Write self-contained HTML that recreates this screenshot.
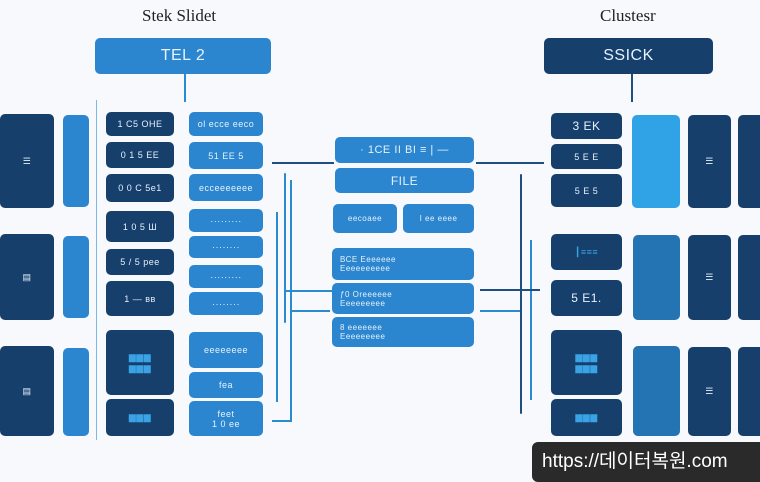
<!DOCTYPE html>
<html><head><meta charset="utf-8"><style>
body{margin:0;width:760px;height:480px;background:#f7f9fc;position:relative;overflow:hidden;font-family:"Liberation Sans",sans-serif}
.b{position:absolute;border-radius:5px;color:#e6f1fb;font-size:9px;display:flex;align-items:center;justify-content:center;text-align:center;letter-spacing:.5px}
.d{background:#163f6c}.m{background:#2b86cf}.l{background:#2fa3e6}.s{background:#2473b3}
.t{position:absolute;font-family:"Liberation Serif",serif;font-size:17px;color:#222}
.ln{position:absolute;background:#2c8ad0}.dl{position:absolute;background:#1f4f80}
</style></head><body>
<div class="t" style="left:142px;top:6px">Stek Slidet</div>
<div class="t" style="left:600px;top:6px">Clustesr</div>
<div class="b m" style="left:95px;top:38px;width:176px;height:36px;font-size:16px">TEL 2</div>
<div class="b d" style="left:544px;top:38px;width:169px;height:36px;font-size:16px">SSICK</div>
<div class="ln" style="left:184px;top:74px;width:2px;height:28px"></div>
<div class="dl" style="left:631px;top:74px;width:2px;height:28px"></div>
<div class="ln" style="left:96px;top:100px;width:1px;height:340px;opacity:.6"></div>

<!-- left big -->
<div class="b d" style="left:0;top:114px;width:54px;height:94px">☰</div>
<div class="b d" style="left:0;top:234px;width:54px;height:86px">▤</div>
<div class="b d" style="left:0;top:346px;width:54px;height:90px">▤</div>
<div class="b m" style="left:63px;top:115px;width:26px;height:92px"></div>
<div class="b m" style="left:63px;top:236px;width:26px;height:82px"></div>
<div class="b m" style="left:63px;top:348px;width:26px;height:88px"></div>
<!-- left dark column -->
<div class="b d" style="left:106px;top:112px;width:68px;height:24px">1 C5 ОНЕ</div>
<div class="b d" style="left:106px;top:142px;width:68px;height:26px">0 1 5 ЕЕ</div>
<div class="b d" style="left:106px;top:174px;width:68px;height:28px">0 0 С 5е1</div>
<div class="b d" style="left:106px;top:211px;width:68px;height:31px">1 0 5 Ш</div>
<div class="b d" style="left:106px;top:249px;width:68px;height:26px">5 / 5 рее</div>
<div class="b d" style="left:106px;top:281px;width:68px;height:35px">1 — вв</div>
<div class="b d" style="left:106px;top:330px;width:68px;height:65px;color:#3aa3e6">▆▆▆<br>▆▆▆</div>
<div class="b d" style="left:106px;top:399px;width:68px;height:37px;color:#3aa3e6">▆▆▆</div>
<!-- left blue column -->
<div class="b m" style="left:189px;top:112px;width:74px;height:24px">ol ecce eeco</div>
<div class="b m" style="left:189px;top:142px;width:74px;height:27px">51 EE 5</div>
<div class="b m" style="left:189px;top:174px;width:74px;height:27px">ecceeeeeee</div>
<div class="b m" style="left:189px;top:209px;width:74px;height:23px">·········</div>
<div class="b m" style="left:189px;top:236px;width:74px;height:22px">········</div>
<div class="b m" style="left:189px;top:265px;width:74px;height:23px">·········</div>
<div class="b m" style="left:189px;top:292px;width:74px;height:23px">········</div>
<div class="b m" style="left:189px;top:332px;width:74px;height:36px">eeeeeeee</div>
<div class="b m" style="left:189px;top:372px;width:74px;height:26px">fea</div>
<div class="b m" style="left:189px;top:401px;width:74px;height:35px">feet<br>1 0 ее</div>
<!-- left connectors -->
<div class="dl" style="left:272px;top:162px;width:62px;height:2px"></div>
<div class="ln" style="left:284px;top:173px;width:2px;height:150px;border-radius:2px"></div>
<div class="ln" style="left:276px;top:212px;width:2px;height:190px"></div>
<div class="ln" style="left:272px;top:420px;width:20px;height:2px"></div>
<div class="ln" style="left:290px;top:180px;width:2px;height:240px"></div>
<div class="ln" style="left:285px;top:290px;width:47px;height:2px"></div>
<div class="ln" style="left:290px;top:310px;width:40px;height:2px"></div>

<!-- center -->
<div class="b m" style="left:335px;top:137px;width:139px;height:26px;font-size:11px">· 1СЕ ІІ ВІ ≡ | —</div>
<div class="b m" style="left:335px;top:168px;width:139px;height:25px;font-size:12px">FILE</div>
<div class="b m" style="left:333px;top:204px;width:64px;height:29px;font-size:8px">eecoaee</div>
<div class="b m" style="left:403px;top:204px;width:71px;height:29px;font-size:8px">I ee eeee</div>
<div class="b m" style="left:332px;top:248px;width:142px;height:32px;font-size:8px;justify-content:flex-start;padding-left:8px;box-sizing:border-box;text-align:left">ВСЕ Eeeeeee<br>Eeeeeeeeee</div>
<div class="b m" style="left:332px;top:283px;width:142px;height:31px;font-size:8px;justify-content:flex-start;padding-left:8px;box-sizing:border-box;text-align:left">ƒ0 Oreeeeee<br>Eeeeeeeee</div>
<div class="b m" style="left:332px;top:317px;width:142px;height:30px;font-size:8px;justify-content:flex-start;padding-left:8px;box-sizing:border-box;text-align:left">8 eeeeeee<br>Eeeeeeeee</div>

<!-- right connectors -->
<div class="dl" style="left:476px;top:162px;width:68px;height:2px"></div>
<div class="dl" style="left:520px;top:174px;width:2px;height:240px;border-radius:3px"></div>
<div class="ln" style="left:530px;top:240px;width:2px;height:160px"></div>
<div class="dl" style="left:480px;top:289px;width:60px;height:2px"></div>
<div class="ln" style="left:480px;top:310px;width:40px;height:2px"></div>

<!-- right dark column -->
<div class="b d" style="left:551px;top:113px;width:71px;height:26px;font-size:12px">3 EK</div>
<div class="b d" style="left:551px;top:144px;width:71px;height:25px">5 Е Е</div>
<div class="b d" style="left:551px;top:174px;width:71px;height:33px">5 Е 5</div>
<div class="b d" style="left:551px;top:234px;width:71px;height:36px;color:#3aa3e6">┃≡≡≡</div>
<div class="b d" style="left:551px;top:280px;width:71px;height:36px;font-size:12px">5 E1.</div>
<div class="b d" style="left:551px;top:330px;width:71px;height:65px;color:#3aa3e6">▆▆▆<br>▆▆▆</div>
<div class="b d" style="left:551px;top:399px;width:71px;height:37px;color:#3aa3e6">▆▆▆</div>
<div class="b l" style="left:632px;top:115px;width:48px;height:93px"></div>
<div class="b s" style="left:633px;top:235px;width:47px;height:85px"></div>
<div class="b s" style="left:633px;top:346px;width:47px;height:90px"></div>
<div class="b d" style="left:688px;top:115px;width:43px;height:93px">☰</div>
<div class="b d" style="left:688px;top:235px;width:43px;height:85px">☰</div>
<div class="b d" style="left:688px;top:347px;width:43px;height:89px">☰</div>
<div class="b d" style="left:738px;top:115px;width:30px;height:93px"></div>
<div class="b d" style="left:738px;top:235px;width:30px;height:85px"></div>
<div class="b d" style="left:738px;top:347px;width:30px;height:89px"></div>

<div style="position:absolute;left:532px;top:442px;width:236px;height:40px;background:#2a2a2a;border-radius:6px;color:#fff;font-family:'Liberation Sans','Noto Sans CJK KR',sans-serif;font-size:19px;line-height:40px;padding-left:10px;box-sizing:border-box">https://데이터복원.com</div>
</body></html>
